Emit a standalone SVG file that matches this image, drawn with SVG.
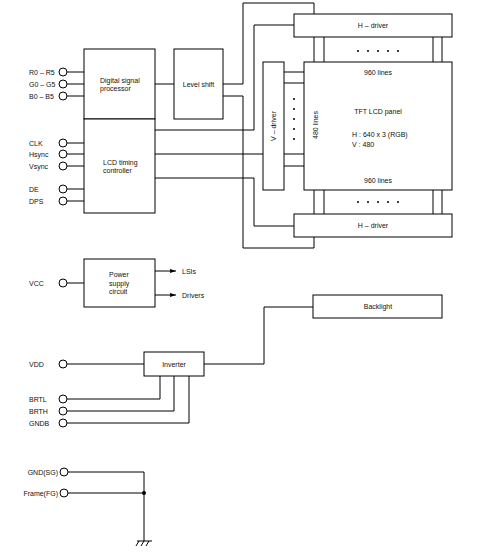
<svg xmlns="http://www.w3.org/2000/svg" width="489" height="554" viewBox="0 0 489 554">
<style>
.b{fill:#fff;stroke:#000;stroke-width:1}
.w{fill:none;stroke:#000;stroke-width:1}
.p{fill:#fff;stroke:#000;stroke-width:1}
text{font-family:"Liberation Sans",Arial,sans-serif;font-size:7px;fill:#111}
.c{text-anchor:middle}
.r{text-anchor:end}
.d{fill:#000}
</style>
<defs>
<marker id="ah" markerWidth="6" markerHeight="4" refX="6" refY="2" orient="auto" markerUnits="userSpaceOnUse">
<path d="M0,0 L6,2 L0,4 Z" fill="#000"/>
</marker>
</defs>
<rect width="489" height="554" fill="#fff"/>

<g id="connectors">
<path class="w" d="M67,72H84M67,84H84M67,96H84M67,143H84M67,154H84M67,166H84M67,189H84M67,201H84"/>
<path class="w" d="M155,84H174"/>
<path class="w" d="M223,84H243V3H314V14"/>
<path class="w" d="M223,96H243V248H314V237"/>
<path class="w" d="M155,130H254V25H294"/>
<path class="w" d="M155,154H263"/>
<path class="w" d="M155,178H254V226H294"/>
<path class="w" d="M314,37V62M324,37V62M433,37V62M442,37V62"/>
<path class="w" d="M314,190V214M324,190V214M433,190V214M442,190V214"/>
<path class="w" d="M284,72H304M284,83H304M284,154H304M284,166H304"/>
<path class="w" d="M67,283H84"/>
<path class="w" d="M155,271H176" marker-end="url(#ah)"/>
<path class="w" d="M155,295H176" marker-end="url(#ah)"/>
<path class="w" d="M67,364H144"/>
<path class="w" d="M204,364H264V307H313"/>
<path class="w" d="M67,399H160V376"/>
<path class="w" d="M67,411H174V376"/>
<path class="w" d="M67,423H189V376"/>
<path class="w" d="M68,472H144V541"/>
<path class="w" d="M68,493H144"/>
<circle class="d" cx="144" cy="493" r="2"/>
<path class="w" d="M137,541H152M139,541L136,546M144,541L141,546M149,541L146,546"/>
</g>

<g id="inputs">
<circle class="p" cx="63" cy="72" r="4"/><text x="29" y="74.5">R0 – R5</text>
<circle class="p" cx="63" cy="84" r="4"/><text x="29" y="86.5">G0 – G5</text>
<circle class="p" cx="63" cy="96" r="4"/><text x="29" y="98.5">B0 – B5</text>
<circle class="p" cx="63" cy="143" r="4"/><text x="29" y="145.5">CLK</text>
<circle class="p" cx="63" cy="154" r="4"/><text x="29" y="156.5">Hsync</text>
<circle class="p" cx="63" cy="166" r="4"/><text x="29" y="168.5">Vsync</text>
<circle class="p" cx="63" cy="189" r="4"/><text x="29" y="191.5">DE</text>
<circle class="p" cx="63" cy="201" r="4"/><text x="29" y="203.5">DPS</text>
<circle class="p" cx="63" cy="283" r="4"/><text x="29" y="285.5">VCC</text>
<circle class="p" cx="63" cy="364" r="4"/><text x="29" y="366.5">VDD</text>
<circle class="p" cx="63" cy="399" r="4"/><text x="29" y="401.5">BRTL</text>
<circle class="p" cx="63" cy="411" r="4"/><text x="29" y="413.5">BRTH</text>
<circle class="p" cx="63" cy="423" r="4"/><text x="29" y="425.5">GNDB</text>
<circle class="p" cx="64" cy="472" r="4"/><text class="r" x="58" y="474.5">GND(SG)</text>
<circle class="p" cx="64" cy="493" r="4"/><text class="r" x="58" y="495.5">Frame(FG)</text>
</g>

<g id="dsp">
<rect class="b" x="84" y="49" width="71" height="70"/>
<text x="100" y="82.5">Digital signal</text>
<text x="100" y="90.5">processor</text>
</g>
<g id="lcd-timing">
<rect class="b" x="84" y="119" width="71" height="94"/>
<text x="103" y="164.5">LCD timing</text>
<text x="103" y="172.5">controller</text>
</g>
<g id="level-shift">
<rect class="b" x="174" y="49" width="49" height="70"/>
<text class="c" x="198.5" y="86.5">Level shift</text>
</g>
<g id="h-driver-top">
<rect class="b" x="294" y="14" width="158" height="23"/>
<text class="c" x="373" y="28">H – driver</text>
<g class="d"><circle cx="358" cy="51" r="1"/><circle cx="368" cy="51" r="1"/><circle cx="378" cy="51" r="1"/><circle cx="388" cy="51" r="1"/><circle cx="398" cy="51" r="1"/></g>
</g>
<g id="v-driver">
<rect class="b" x="263" y="62" width="21" height="128"/>
<text class="c" transform="translate(276 126) rotate(-90)">V – driver</text>
<g class="d"><circle cx="294" cy="99" r="1"/><circle cx="294" cy="109" r="1"/><circle cx="294" cy="119" r="1"/><circle cx="294" cy="129" r="1"/><circle cx="294" cy="139" r="1"/></g>
</g>
<g id="panel">
<rect class="b" x="304" y="62" width="148" height="128"/>
<text class="c" x="378" y="74.5">960 lines</text>
<text class="c" x="378" y="113.5">TFT LCD panel</text>
<text x="352" y="136.5">H : 640 x 3 (RGB)</text>
<text x="352" y="146.5">V : 480</text>
<text class="c" x="378" y="182.5">960 lines</text>
<text class="c" transform="translate(317.5 125) rotate(-90)">480 lines</text>
</g>
<g id="h-driver-bottom">
<rect class="b" x="294" y="214" width="158" height="23"/>
<text class="c" x="373" y="227.5">H – driver</text>
<g class="d"><circle cx="358" cy="202" r="1"/><circle cx="368" cy="202" r="1"/><circle cx="378" cy="202" r="1"/><circle cx="388" cy="202" r="1"/><circle cx="398" cy="202" r="1"/></g>
</g>
<g id="power">
<rect class="b" x="84" y="259" width="71" height="48"/>
<text x="109" y="276.5">Power</text>
<text x="109" y="285.5">supply</text>
<text x="109" y="294">circuit</text>
<text x="182" y="273.5">LSIs</text>
<text x="182" y="297.5">Drivers</text>
</g>
<g id="backlight">
<rect class="b" x="313" y="295" width="129" height="23"/>
<text class="c" x="378" y="309">Backlight</text>
</g>
<g id="inverter">
<rect class="b" x="144" y="352" width="60" height="24"/>
<text class="c" x="174" y="366.5">Inverter</text>
</g>
</svg>
